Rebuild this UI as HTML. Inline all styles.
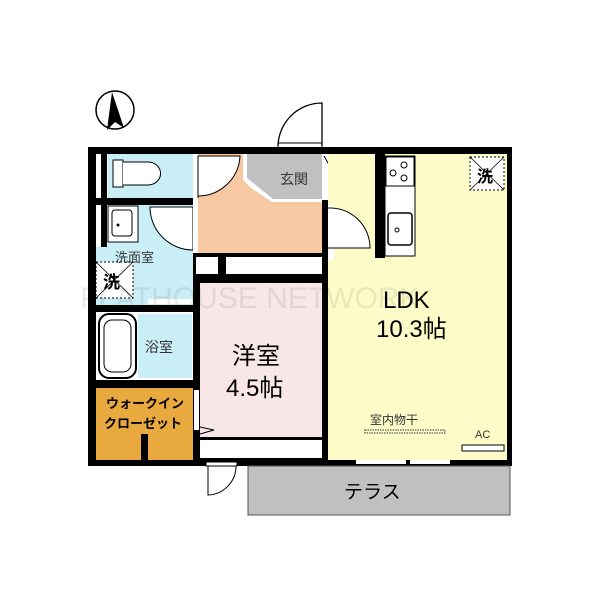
<!DOCTYPE html>
<html><head><meta charset="utf-8"><style>
body{margin:0;background:#fff}
svg{display:block}
text{font-family:"Liberation Sans","Noto Sans CJK JP",sans-serif}
</style></head><body>
<svg width="600" height="600" viewBox="0 0 600 600" xmlns="http://www.w3.org/2000/svg">
<!-- north arrow -->
<circle cx="115" cy="110" r="19" fill="none" stroke="#000" stroke-width="1.5"/>
<polygon points="112,92 124,128 115,122 107,130" fill="#000"/>
<!-- entry door -->
<rect x="278" y="143" width="44" height="5" fill="#fff" stroke="#000"/>
<path d="M322,146 L322,103 A44,44 0 0 0 278,146" fill="none" stroke="#000" stroke-width="1.3"/>
<!-- outer walls fill -->
<rect x="88" y="147" width="424" height="319" fill="#000"/>
<!-- toilet -->
<rect x="96" y="154" width="97" height="44" fill="#fff"/>
<rect x="101" y="154" width="6" height="44" fill="#000"/>
<rect x="108" y="154" width="85" height="44" fill="#c9eef5"/>
<rect x="113" y="160" width="10" height="27" fill="#fff" stroke="#000"/>
<path d="M123,162 L148,162 A12,11 0 0 1 148,185 L123,185" fill="#fff" stroke="#000"/>
<!-- washroom -->
<rect x="96" y="205" width="97" height="100" fill="#c9eef5"/>
<rect x="96" y="205" width="12" height="42" fill="#fff"/>
<rect x="101" y="205" width="6" height="42" fill="#000"/>
<rect x="108" y="206" width="30" height="36" fill="#fff" stroke="#000"/>
<rect x="112" y="210" width="20" height="26" rx="3" fill="#fff" stroke="#000"/>
<circle cx="118" cy="225" r="1.5" fill="#000"/>
<path d="M150,207 L193,207 L193,250 A43,43 0 0 1 150,207Z" fill="#fff" stroke="#000"/>
<rect x="96" y="262" width="37" height="36" fill="#fff" stroke="#000" stroke-dasharray="2,2"/>
<path d="M96,262 L133,298 M133,262 L96,298" stroke="#000" stroke-width="0.8"/>
<text x="103" y="288" font-size="17" font-weight="bold">洗</text>
<text x="115" y="262" font-size="13" fill="#333">洗面室</text>
<rect x="148" y="299" width="45" height="5" fill="#fff"/>
<!-- bath -->
<rect x="96" y="312" width="97" height="68" fill="#fff"/>
<rect x="138" y="314" width="54" height="64" fill="#c9eef5"/>
<rect x="99" y="314" width="37" height="64" rx="10" fill="#fff" stroke="#000" stroke-width="2"/>
<rect x="104" y="320" width="27" height="52" rx="8" fill="#fff" stroke="#000"/>
<text x="145" y="352" font-size="14" fill="#333">浴室</text>
<!-- closet -->
<rect x="96" y="388" width="97" height="72" fill="#e8a93e"/>
<rect x="141" y="434" width="7" height="26" fill="#000"/>
<text x="106" y="408" font-size="13" font-weight="bold" fill="#000">ウォークイン</text>
<text x="104" y="428" font-size="13" font-weight="bold" fill="#000">クローゼット</text>
<!-- hall -->
<rect x="198" y="154" width="124" height="99" fill="#f7c9a3"/>
<rect x="193" y="154" width="5" height="99" fill="#fff"/>
<path d="M198,156 L240,156 A42,42 0 0 1 198,196Z" fill="#fff" stroke="#000"/>
<path d="M198,156 L198,198" stroke="#000"/>
<!-- genkan -->
<polygon points="243,154 322,154 322,202 272,202 251,188 243,180" fill="#ffffff"/>
<polygon points="247,154 322,154 322,199 273,199 247,178" fill="#c0c0c0"/>
<text x="280" y="184" font-size="14" fill="#333">玄関</text>
<!-- PS area -->
<rect x="322" y="154" width="28" height="46" fill="#fff"/>
<path d="M324,156 L348,198" stroke="#000"/>
<rect x="357" y="154" width="18" height="46" fill="#fff"/>
<text x="358" y="182" font-size="9" fill="#333">PS</text>
<!-- block -->
<rect x="196" y="257" width="22" height="17" fill="#fff"/>
<rect x="226" y="257" width="96" height="17" fill="#fff"/>
<!-- western -->
<rect x="200" y="283" width="122" height="154" fill="#f9e6e6"/>
<rect x="200" y="440" width="122" height="18" fill="#fff"/>
<rect x="194" y="390" width="5" height="40" fill="#fff"/>
<path d="M200,427 L214,430 L200,434" fill="none" stroke="#000"/>
<text x="232" y="364" font-size="24" fill="#000">洋室</text>
<text x="226" y="396" font-size="24" fill="#000">4.5帖</text>
<!-- LDK -->
<rect x="328" y="154" width="179" height="306" fill="#fdfcc8"/>
<rect x="322" y="200" width="6" height="60" fill="#000"/>
<rect x="328" y="205" width="6" height="55" fill="#fff"/>
<path d="M328,208 A40,40 0 0 1 370,248 L328,248" fill="#fff" stroke="#000"/>
<rect x="375" y="154" width="10" height="104" fill="#000"/>
<rect x="385" y="156" width="30" height="100" fill="#fff" stroke="#000"/>
<rect x="386" y="157" width="28" height="29" fill="#fff" stroke="#000"/>
<circle cx="393" cy="173" r="3" fill="none" stroke="#000"/>
<circle cx="404" cy="165" r="3" fill="none" stroke="#000"/>
<circle cx="404" cy="178" r="3" fill="none" stroke="#000"/>
<rect x="388" y="213" width="24" height="32" rx="3" fill="#fff" stroke="#000" stroke-width="1.5"/>
<circle cx="397" cy="230" r="2" fill="none" stroke="#000"/>
<rect x="470" y="157" width="34" height="33" fill="#fff" stroke="#000" stroke-dasharray="2,2"/>
<path d="M470,157 L504,190 M504,157 L470,190" stroke="#000" stroke-width="0.8"/>
<text x="477" y="182" font-size="16" font-weight="bold">洗</text>
<text x="383" y="308" font-size="24" fill="#000">LDK</text>
<text x="376" y="337" font-size="24" fill="#000">10.3帖</text>
<text x="370" y="424" font-size="12" fill="#333">室内物干</text>
<rect x="365" y="430" width="80" height="3" fill="none" stroke="#333" stroke-dasharray="1.5,1"/>
<text x="475" y="438" font-size="11" fill="#333">AC</text>
<rect x="462" y="445" width="42" height="6" fill="#fff" stroke="#000"/>
<rect x="356" y="460" width="50" height="4" fill="#fff"/>
<rect x="410" y="460" width="40" height="4" fill="#fff"/>
<!-- terrace -->
<rect x="248" y="466" width="262" height="49" fill="#c0c0c0" stroke="#555"/>
<text x="344" y="498" font-size="19" fill="#000">テラス</text>
<!-- bottom door -->
<rect x="206" y="462" width="31" height="4" fill="#fff" stroke="#000"/>
<path d="M208,466 L208,495 A29,29 0 0 0 236,466" fill="none" stroke="#000"/>
<!-- watermark -->
<text x="80" y="308" font-size="30" fill="#000" fill-opacity="0.08">FLATHOUSE NETWORK</text>
</svg>
</body></html>
